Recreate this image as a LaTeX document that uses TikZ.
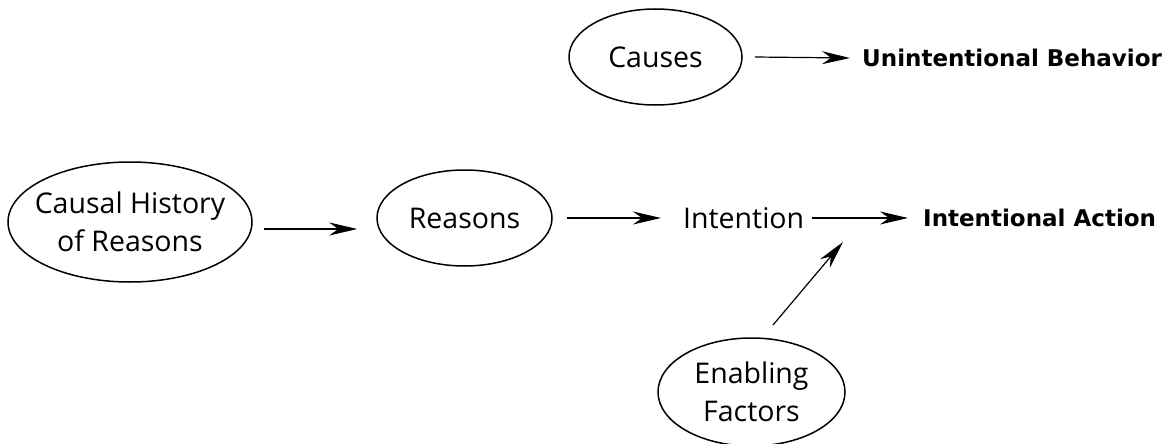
\documentclass[tikz,border=0pt]{standalone}
\usepackage{fontspec}
\setmainfont{Open Sans}
\newfontfamily\labfont{DejaVu Sans}
\usetikzlibrary{shapes.geometric,arrows.meta}
\tikzset{
  oval/.style={ellipse,draw,line width=1.5pt,inner sep=-40pt,align=center,font=\fontsize{28.5}{38}\selectfont},
  plain/.style={inner sep=0pt,font=\fontsize{28.5}{34}\selectfont},
  bold/.style={inner sep=0pt,font=\labfont\bfseries\fontsize{23}{28}\selectfont},
  conn/.style={line width=1.2pt,-{Stealth[length=28pt,width=13pt,inset=9pt]}}
}
\begin{document}
\begin{tikzpicture}[x=1pt,y=-1pt]
\useasboundingbox (0,0) rectangle (1173,444);
\node[oval,minimum width=173pt,minimum height=96pt] (causes) at (655.5,57) {Causes};
\node[bold,anchor=west] (unint) at (862,58) {Unintentional Behavior};
\node[oval,minimum width=244pt,minimum height=120pt] (hist) at (130,222) {Causal History\\of Reasons};
\node[oval,minimum width=175pt,minimum height=96pt] (reasons) at (464.5,218) {Reasons};
\node[plain,anchor=west] (intention) at (683,218) {Intention};
\node[bold,anchor=west] (action) at (923,218) {Intentional Action};
\node[oval,minimum width=187pt,minimum height=108pt] (enab) at (751.5,392) {Enabling\\Factors};
\coordinate (ea) at (773,325);
\coordinate (eb) at (843,242);
\path (hist.east) ++(11pt,-7pt) coordinate (h1);
\draw[conn] ([xshift=12pt]causes.east) -- ([xshift=-12pt]unint.west);
\draw[conn] (h1) -- ([xshift=-19pt]reasons.west |- h1);
\draw[conn] ([xshift=14pt]reasons.east) -- ([xshift=-22pt]intention.west);
\draw[conn] ([xshift=8pt]intention.east) -- ([xshift=-15pt]action.west);
\draw[conn] (ea) -- (eb);
\end{tikzpicture}
\end{document}
